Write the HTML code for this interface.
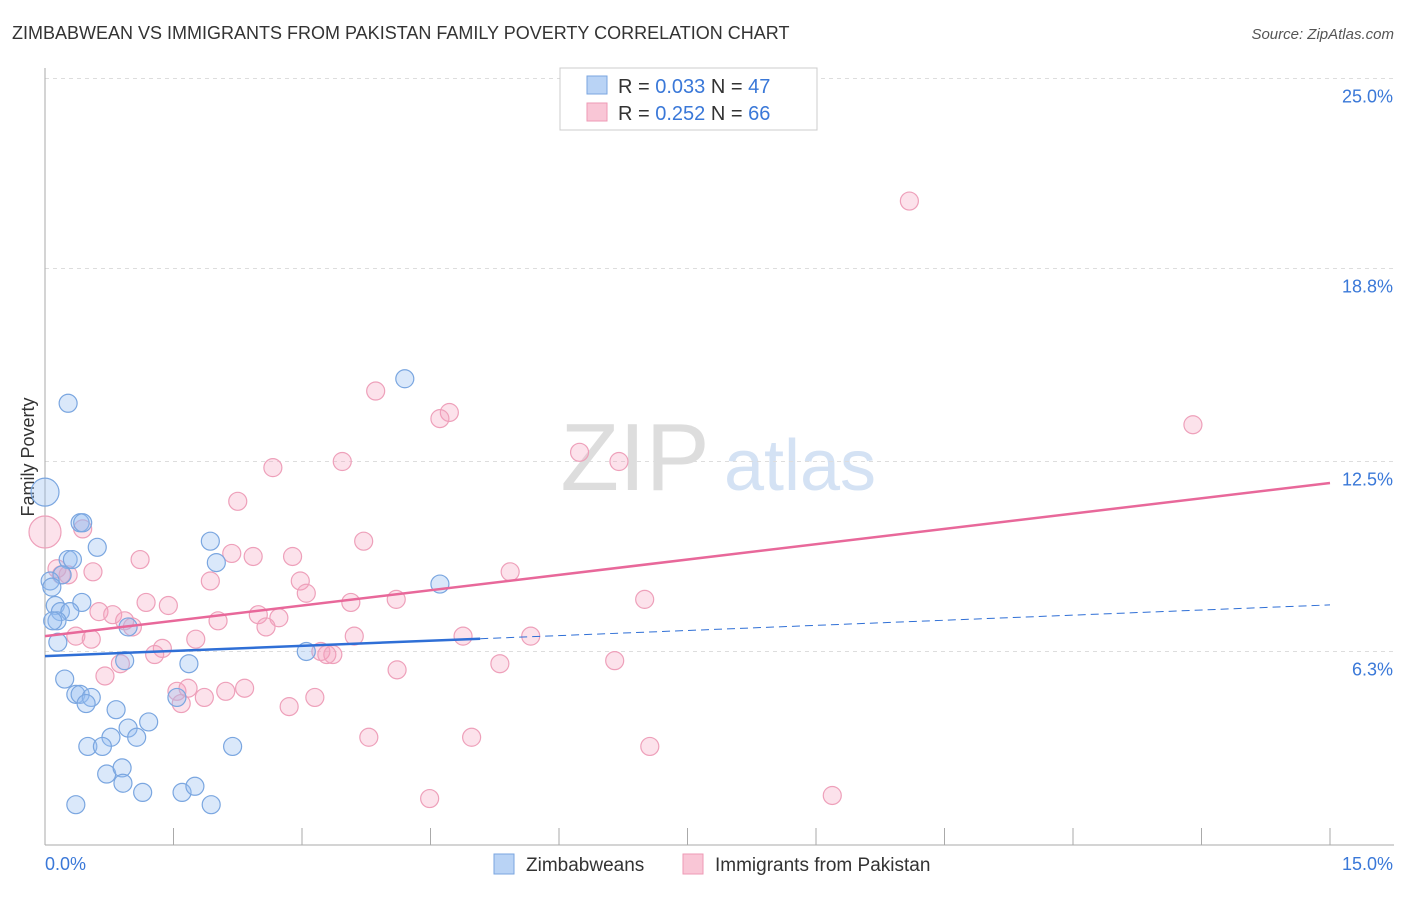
<!DOCTYPE html>
<html><head><meta charset="utf-8"><style>
body{margin:0;background:#fff;font-family:"Liberation Sans",sans-serif;}
svg text{font-family:"Liberation Sans",sans-serif;}
</style></head><body>
<svg id="c" width="1406" height="892" xmlns="http://www.w3.org/2000/svg">
<text x="12" y="39" font-size="18" fill="#333">ZIMBABWEAN VS IMMIGRANTS FROM PAKISTAN FAMILY POVERTY CORRELATION CHART</text>
<text x="1394" y="39" font-size="15" fill="#555" font-style="italic" text-anchor="end">Source: ZipAtlas.com</text>
<text x="635" y="490" font-size="96" fill="#ddd" font-family="Liberation Serif" text-anchor="middle">ZIP</text>
<text x="800" y="490" font-size="72" fill="#d4e2f4" text-anchor="middle">atlas</text>
<text x="34" y="457" font-size="18" fill="#333" text-anchor="middle" transform="rotate(-90 34 457)">Family Poverty</text>
<g id="grid"></g><g id="marks"></g>
<g>
<rect x="560" y="68" width="257" height="62" fill="#fff" stroke="#ccc"/>
<rect x="587" y="76" width="20" height="18" fill="#b9d3f5" stroke="#7aa6e0"/>
<rect x="587" y="103" width="20" height="18" fill="#f9c6d6" stroke="#ee9ab5"/>
<text x="618" y="93" font-size="20" fill="#333">R = <tspan fill="#3a78d8">0.033</tspan>   N = <tspan fill="#3a78d8">47</tspan></text>
<text x="618" y="120" font-size="20" fill="#333">R = <tspan fill="#3a78d8">0.252</tspan>   N = <tspan fill="#3a78d8">66</tspan></text>
</g>
<g>
<rect x="494" y="854" width="20" height="20" fill="#b9d3f5" stroke="#7aa6e0"/>
<text x="526" y="871" font-size="19" fill="#333">Zimbabweans</text>
<rect x="683" y="854" width="20" height="20" fill="#f9c6d6" stroke="#ee9ab5"/>
<text x="715" y="871" font-size="19" fill="#333">Immigrants from Pakistan</text>
</g>
</svg>
<script>
const yTicks=[25.0,18.8,12.5,6.3];
const xLabels=["0.0%","15.0%"];
const blueX=[0,0.27,4.2,0.41,0.44,0.61,0.27,0.32,0.2,0.06,0.08,0.12,0.43,0.18,0.29,0.14,0.09,0.15,0.97,0.93,1.93,2.0,4.61,3.05,1.68,0.23,0.36,0.41,0.54,0.48,0.83,1.21,0.97,0.77,1.07,0.5,0.67,2.19,0.72,0.9,0.91,1.14,1.6,1.75,0.36,1.94,1.54];
const blueY=[11.5,14.4,15.2,10.5,10.5,9.7,9.3,9.3,8.8,8.6,8.4,7.8,7.9,7.6,7.6,7.3,7.3,6.6,7.1,6.0,9.9,9.2,8.5,6.3,5.9,5.4,4.9,4.9,4.8,4.6,4.4,4.0,3.8,3.5,3.5,3.2,3.2,3.2,2.3,2.5,2.0,1.7,1.7,1.9,1.3,1.3,4.8];
const blueR=[14,9,9,9,9,9,9,9,9,9,9,9,9,9,9,9,9,9,9,9,9,9,9,9,9,9,9,9,9,9,9,9,9,9,9,9,9,9,9,9,9,9,9,9,9,9,9];
const pinkX=[10.09,13.4,3.86,4.72,4.61,6.24,6.7,3.47,2.66,2.25,0,0.44,3.72,1.11,2.18,2.43,2.89,5.43,0.19,0.27,0.14,0.56,1.93,2.98,3.05,1.18,1.44,3.57,4.1,7.0,0.63,0.79,2.49,2.73,2.02,0.93,1.02,2.58,0.36,0.54,3.61,4.88,5.67,1.76,1.37,1.28,3.22,3.36,3.29,5.31,6.65,0.88,4.11,0.7,2.33,1.54,1.67,2.11,3.15,1.59,1.86,2.85,3.78,4.98,7.06,4.49,9.19];
const pinkY=[21.0,13.7,14.8,14.1,13.9,12.8,12.5,12.5,12.3,11.2,10.2,10.3,9.9,9.3,9.5,9.4,9.4,8.9,8.8,8.8,9.0,8.9,8.6,8.6,8.2,7.9,7.8,7.9,8.0,8.0,7.6,7.5,7.5,7.4,7.3,7.3,7.1,7.1,6.8,6.7,6.8,6.8,6.8,6.7,6.4,6.2,6.3,6.2,6.2,5.9,6.0,5.9,5.7,5.5,5.1,5.0,5.1,5.0,4.8,4.6,4.8,4.5,3.5,3.5,3.2,1.5,1.6];
const pinkR=[9,9,9,9,9,9,9,9,9,9,16,9,9,9,9,9,9,9,9,9,9,9,9,9,9,9,9,9,9,9,9,9,9,9,9,9,9,9,9,9,9,9,9,9,9,9,9,9,9,9,9,9,9,9,9,9,9,9,9,9,9,9,9,9,9,9,9];
const blueLine=[6.15,7.82], blueSolidEnd=5.08;
const pinkLine=[6.8,11.8];
const X0=45,X1=1330,Y0=844.5,PY=30.64;
const xs=v=>X0+(X1-X0)*v/15, ys=v=>Y0-v*PY;
const NS="http://www.w3.org/2000/svg";
const grid=document.getElementById('grid'), marks=document.getElementById('marks');
function mk(tag,attrs,parent){const e=document.createElementNS(NS,tag);for(const k in attrs)e.setAttribute(k,attrs[k]);parent.appendChild(e);return e;}
yTicks.forEach(t=>{
 const y=ys(t);
 const g=mk('line',{x1:X0,x2:1394,y1:y,y2:y,stroke:'#ddd','stroke-dasharray':'4,4'},grid);
 
 
 const tx=mk('text',{x:1393,y:y+24,'font-size':18,fill:'#3a78d8','text-anchor':'end'},grid);
 tx.textContent=t.toFixed(1)+'%';
 
 
});
const ax=mk('line',{x1:X0,x2:1394,y1:845,y2:845,stroke:'#aaa'},grid);


const ay=mk('line',{x1:X0,x2:X0,y1:68,y2:845,stroke:'#aaa'},grid);


for(let i=0;i<=10;i++){const x=xs(i*1.5);
 const t=mk('line',{x1:x,x2:x,y1:828,y2:845,stroke:'#aaa'},grid);
 
 }
const l0=mk('text',{x:45,y:870,'font-size':18,fill:'#3a78d8'},grid);l0.textContent=xLabels[0];


const l1=mk('text',{x:1393,y:870,'font-size':18,fill:'#3a78d8','text-anchor':'end'},grid);l1.textContent=xLabels[1];


pinkX.forEach((v,i)=>{const c=mk('circle',{cx:xs(v),cy:ys(pinkY[i]),r:pinkR[i],fill:'rgba(244,160,188,0.3)',stroke:'#eea0ba','stroke-width':1.2},marks);
 
 });
blueX.forEach((v,i)=>{const c=mk('circle',{cx:xs(v),cy:ys(blueY[i]),r:blueR[i],fill:'rgba(150,190,240,0.35)',stroke:'#7aa6e0','stroke-width':1.2},marks);
 
 });
const bAt=x=>blueLine[0]+(blueLine[1]-blueLine[0])*x/15;
const bl=mk('line',{x1:xs(0),y1:ys(bAt(0)),x2:xs(blueSolidEnd),y2:ys(bAt(blueSolidEnd)),stroke:'#2f6fd6','stroke-width':2.5},marks);


const bd=mk('line',{x1:xs(blueSolidEnd),y1:ys(bAt(blueSolidEnd)),x2:xs(15),y2:ys(bAt(15)),stroke:'#2f6fd6','stroke-width':1,'stroke-dasharray':'8,5'},marks);


const pl=mk('line',{x1:xs(0),y1:ys(pinkLine[0]),x2:xs(15),y2:ys(pinkLine[1]),stroke:'#e8689a','stroke-width':2.5},marks);


</script>
</body></html>
